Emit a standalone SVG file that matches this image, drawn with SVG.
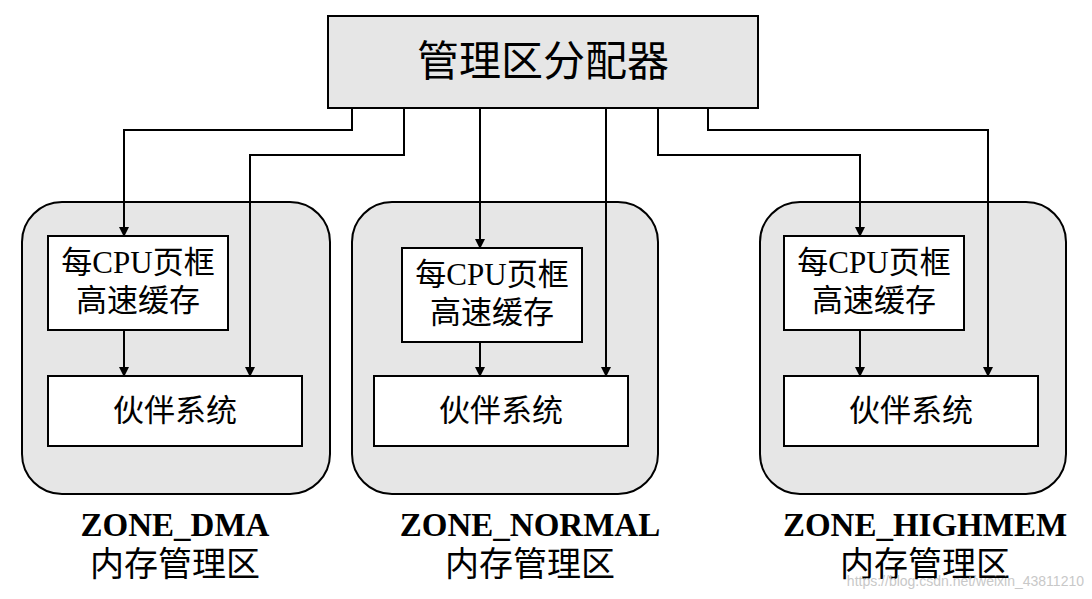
<svg xmlns="http://www.w3.org/2000/svg" width="1092" height="599" viewBox="0 0 1092 599">
<defs>
<marker id="ah" markerWidth="10" markerHeight="10" refX="9" refY="5" orient="auto" markerUnits="userSpaceOnUse"><path d="M0,0 L10,5 L0,10 Z" fill="#000"/></marker>
<style>
.zone{fill:#e6e6e6;stroke:#000;stroke-width:2}
.box{fill:#fff;stroke:#000;stroke-width:2}
.t{font-family:"Liberation Serif","Noto Sans CJK SC",serif;fill:#000;text-anchor:middle}
.c{fill:none;stroke:#000;stroke-width:2;marker-end:url(#ah)}
</style>
</defs>
<rect width="1092" height="599" fill="#fff"/>
<g id="top"><rect x="328" y="16" width="430" height="92" class="zone"/><text x="543" y="76" class="t" font-size="42">管理区分配器</text></g>
<g id="zone1"><rect x="22" y="202" width="308" height="292" rx="40" class="zone"/></g>
<g id="zone2"><rect x="352" y="202" width="306" height="292" rx="40" class="zone"/></g>
<g id="zone3"><rect x="760" y="202" width="306" height="292" rx="40" class="zone"/></g>
<g id="cache1"><rect x="48" y="236" width="180" height="94" class="box"/><text x="138" y="273" class="t" font-size="31">每CPU页框</text><text x="138" y="311" class="t" font-size="31">高速缓存</text></g>
<g id="cache2"><rect x="402" y="248" width="180" height="94" class="box"/><text x="492" y="285" class="t" font-size="31">每CPU页框</text><text x="492" y="323" class="t" font-size="31">高速缓存</text></g>
<g id="cache3"><rect x="784" y="236" width="180" height="94" class="box"/><text x="874" y="273" class="t" font-size="31">每CPU页框</text><text x="874" y="311" class="t" font-size="31">高速缓存</text></g>
<g id="buddy1"><rect x="48" y="376" width="254" height="70" class="box"/><text x="175" y="421" class="t" font-size="31">伙伴系统</text></g>
<g id="buddy2"><rect x="374" y="376" width="254" height="70" class="box"/><text x="501" y="421" class="t" font-size="31">伙伴系统</text></g>
<g id="buddy3"><rect x="784" y="376" width="254" height="70" class="box"/><text x="911" y="421" class="t" font-size="31">伙伴系统</text></g>
<g id="labels">
<text x="175" y="536" class="t" font-size="33" font-weight="bold">ZONE_DMA</text><text x="175" y="576" class="t" font-size="34">内存管理区</text>
<text x="530" y="536" class="t" font-size="33" font-weight="bold">ZONE_NORMAL</text><text x="530" y="576" class="t" font-size="34">内存管理区</text>
<text x="925" y="536" class="t" font-size="33" font-weight="bold">ZONE_HIGHMEM</text><text x="925" y="576" class="t" font-size="34">内存管理区</text>
<text x="1084" y="586" font-family="Liberation Sans,sans-serif" font-size="14" fill="#c8c8c8" text-anchor="end">https://blog.csdn.net/weixin_43811210</text>
</g>
<g id="connectors">
<path class="c" d="M352,108 V130 H124 V236"/>
<path class="c" d="M404,108 V155 H250 V376"/>
<path class="c" d="M480,108 V248"/>
<path class="c" d="M606,108 V376"/>
<path class="c" d="M658,108 V155 H860 V236"/>
<path class="c" d="M708,108 V130 H988 V376"/>
<path class="c" d="M124,330 V376"/>
<path class="c" d="M480,342 V376"/>
<path class="c" d="M860,330 V376"/>
</g>
</svg>
